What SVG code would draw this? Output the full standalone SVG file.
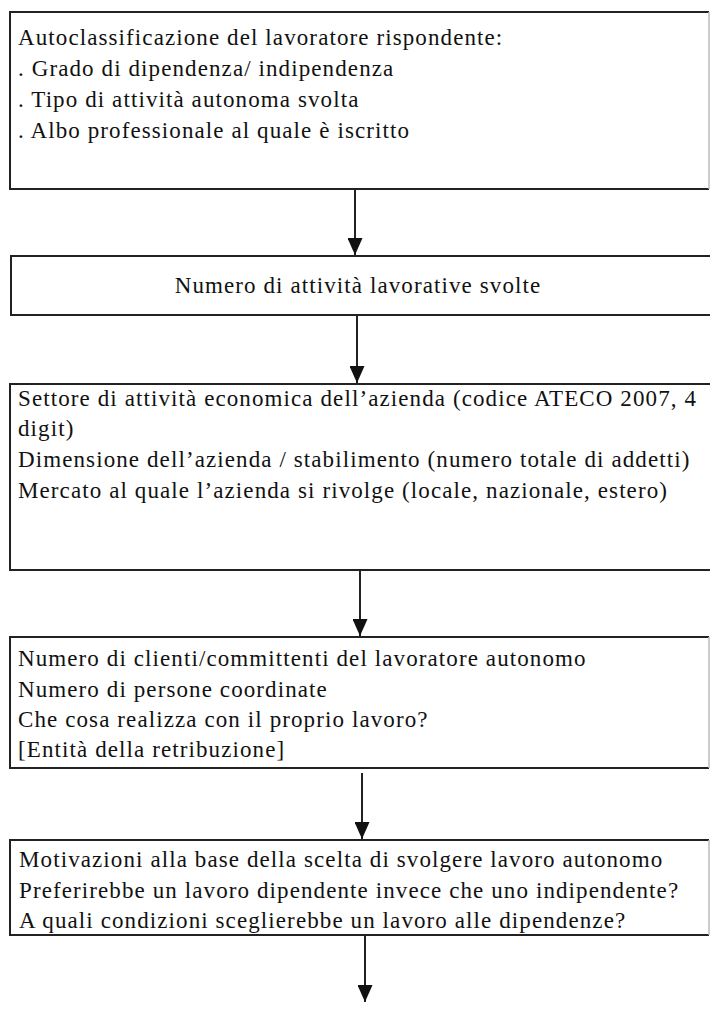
<svg xmlns="http://www.w3.org/2000/svg" width="710" height="1010" viewBox="0 0 710 1010">
<style>
.box{fill:#fff;stroke:#222;stroke-width:2}
.edge{stroke:#bbb;stroke-width:1.5}
.t{font-family:'Liberation Serif','Times New Roman',serif;font-size:23px;fill:#111;letter-spacing:1.1px}
.c{stroke:#222;stroke-width:2;fill:none}
</style>
<defs>
<marker id="ah" viewBox="0 0 17 15" refX="17" refY="7.5" markerWidth="17" markerHeight="15" markerUnits="userSpaceOnUse" orient="auto">
<path d="M0,0 L17,7.5 L0,15 Z" fill="#111"/>
</marker>
</defs>
<rect width="710" height="1010" fill="#fff"/>
<g id="n1">
<path class="box" d="M709,12 H10 V189 H709"/>
<line class="edge" x1="709" y1="12" x2="709" y2="189"/>
<text class="t" x="18" y="45">Autoclassificazione del lavoratore rispondente:</text>
<text class="t" x="18" y="76">. Grado di dipendenza/ indipendenza</text>
<text class="t" x="18" y="107">. Tipo di attività autonoma svolta</text>
<text class="t" x="18" y="138">. Albo professionale al quale è iscritto</text>
</g>
<g id="n2">
<path class="box" d="M712,256 H11 V315 H712"/>
<text class="t" x="358" y="293" text-anchor="middle">Numero di attività lavorative svolte</text>
</g>
<g id="n3">
<path class="box" d="M712,384 H10 V570 H712"/>
<text class="t" x="18" y="406">Settore di attività economica dell’azienda (codice ATECO 2007, 4</text>
<text class="t" x="18" y="436">digit)</text>
<text class="t" x="18" y="467">Dimensione dell’azienda / stabilimento (numero totale di addetti)</text>
<text class="t" x="18" y="498">Mercato al quale l’azienda si rivolge (locale, nazionale, estero)</text>
</g>
<g id="n4">
<path class="box" d="M709,637 H10 V768 H709"/>
<line class="edge" x1="709" y1="637" x2="709" y2="768"/>
<text class="t" x="18" y="666">Numero di clienti/committenti del lavoratore autonomo</text>
<text class="t" x="18" y="697">Numero di persone coordinate</text>
<text class="t" x="18" y="727">Che cosa realizza con il proprio lavoro?</text>
<text class="t" x="18" y="757">[Entità della retribuzione]</text>
</g>
<g id="n5">
<path class="box" d="M709,840 H10 V935 H709"/>
<line class="edge" x1="709" y1="840" x2="709" y2="935"/>
<text class="t" x="19" y="867">Motivazioni alla base della scelta di svolgere lavoro autonomo</text>
<text class="t" x="19" y="898">Preferirebbe un lavoro dipendente invece che uno indipendente?</text>
<text class="t" x="19" y="928">A quali condizioni sceglierebbe un lavoro alle dipendenze?</text>
</g>
<g id="connectors">
<line class="c" x1="355" y1="189" x2="355" y2="255" marker-end="url(#ah)"/>
<line class="c" x1="357" y1="315" x2="357" y2="383" marker-end="url(#ah)"/>
<line class="c" x1="360" y1="570" x2="360" y2="636" marker-end="url(#ah)"/>
<line class="c" x1="362" y1="773" x2="362" y2="839" marker-end="url(#ah)"/>
<line class="c" x1="365" y1="935" x2="365" y2="1002" marker-end="url(#ah)"/>
</g>
</svg>
